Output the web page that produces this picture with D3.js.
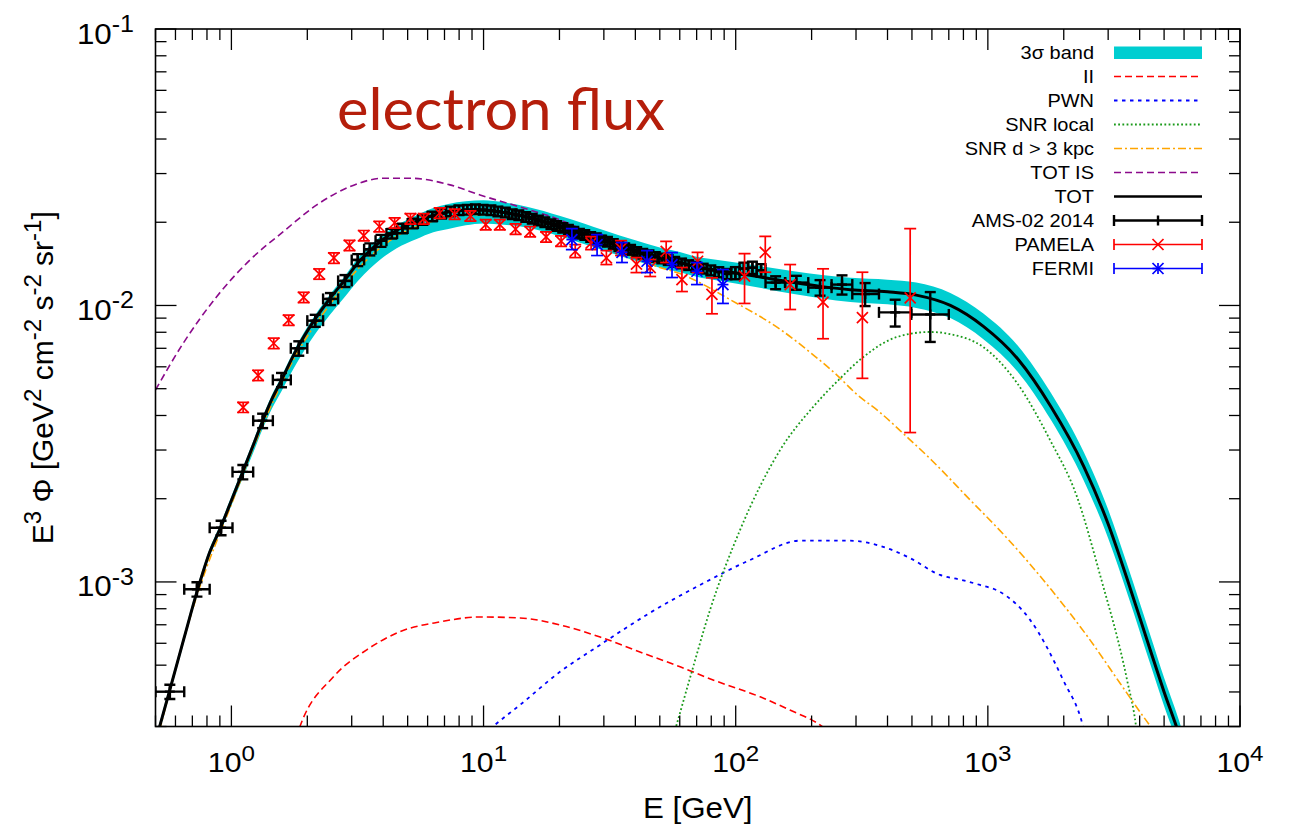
<!DOCTYPE html>
<html>
<head>
<meta charset="utf-8">
<script src="https://cdn.jsdelivr.net/npm/d3@7"></script>
<style>
  body { margin: 0; background: #fff; }
  text { white-space: pre; }
</style>
</head>
<body>
<svg id="chart" width="1296" height="828"></svg>
<script>
// ---------- model curves (E in GeV, E^3 flux in GeV^2 cm^-2 s^-1 sr^-1) ----------
const gridE = [0.5,0.567,0.65,0.735,0.82,0.905,1.0,1.109,1.22,1.331,1.45,1.582,1.8,2.132,2.46,2.804,3.186,3.546,3.886,4.524,5.43,6.32,7.25,8.5,10,12,15,20,25,30,40,50,60,70,85,100,130,170,220,285,400,520,710,960,1315,1780,2400,3000,3600,4400,5000,5700,6500];
const totFlux = [2.65e-4,4.0e-4,6.3e-4,9.4e-4,1.28e-3,1.57e-3,1.97e-3,2.5e-3,3.12e-3,3.83e-3,4.6e-3,5.38e-3,6.85e-3,8.85e-3,1.06e-2,1.23e-2,1.43e-2,1.58e-2,1.70e-2,1.87e-2,2.02e-2,2.12e-2,2.18e-2,2.21e-2,2.21e-2,2.17e-2,2.09e-2,1.94e-2,1.82e-2,1.72e-2,1.58e-2,1.49e-2,1.43e-2,1.38e-2,1.34e-2,1.31e-2,1.26e-2,1.21e-2,1.17e-2,1.14e-2,1.12e-2,1.09e-2,1.0e-2,8.4e-3,6.4e-3,4.3e-3,2.62e-3,1.62e-3,1.0e-3,5.7e-4,4.0e-4,2.85e-4,1.9e-4];
const bandLo = [2.56e-4,3.87e-4,6.09e-4,9.09e-4,1.24e-3,1.52e-3,1.89e-3,2.37e-3,2.93e-3,3.58e-3,4.25e-3,4.91e-3,6.1e-3,7.8e-3,9.25e-3,1.068e-2,1.231e-2,1.36e-2,1.464e-2,1.61e-2,1.74e-2,1.84e-2,1.89e-2,1.95e-2,1.98e-2,1.96e-2,1.91e-2,1.78e-2,1.67e-2,1.58e-2,1.45e-2,1.37e-2,1.32e-2,1.27e-2,1.23e-2,1.2e-2,1.15e-2,1.10e-2,1.06e-2,1.03e-2,1.01e-2,9.8e-3,9.0e-3,7.55e-3,5.75e-3,3.85e-3,2.33e-3,1.44e-3,8.9e-4,5.07e-4,3.56e-4,2.54e-4,1.69e-4];
const bandHi = [2.74e-4,4.14e-4,6.51e-4,9.72e-4,1.32e-3,1.62e-3,2.04e-3,2.59e-3,3.23e-3,3.96e-3,4.76e-3,5.56e-3,7.08e-3,9.15e-3,1.096e-2,1.27e-2,1.49e-2,1.65e-2,1.77e-2,1.95e-2,2.12e-2,2.25e-2,2.33e-2,2.38e-2,2.40e-2,2.36e-2,2.27e-2,2.11e-2,1.98e-2,1.87e-2,1.72e-2,1.62e-2,1.56e-2,1.50e-2,1.46e-2,1.43e-2,1.38e-2,1.33e-2,1.29e-2,1.26e-2,1.24e-2,1.21e-2,1.11e-2,9.35e-3,7.15e-3,4.82e-3,2.95e-3,1.83e-3,1.13e-3,6.45e-4,4.5e-4,3.2e-4,2.14e-4];

const iiE = [1.75,1.87,2.54,3.44,4.66,6.72,9.68,13.95,20.1,29,41.7,60.2,81.3,125,164,220,240];
const iiFlux = [2.5e-4,3.0e-4,4.54e-4,5.68e-4,6.61e-4,7.17e-4,7.47e-4,7.41e-4,6.99e-4,6.32e-4,5.58e-4,4.93e-4,4.42e-4,3.84e-4,3.44e-4,3.0e-4,2.8e-4];

const pwnE = [10,10.9,13.95,20.1,29,45.7,72.2,114,180,284,374,491,646,776,931,1118,1471,1988,2386,2500];
const pwnFlux = [2.8e-4,3.0e-4,3.59e-4,4.73e-4,5.92e-4,7.73e-4,9.75e-4,1.2e-3,1.41e-3,1.41e-3,1.35e-3,1.22e-3,1.06e-3,1.02e-3,9.75e-4,9.2e-4,7.29e-4,4.42e-4,3.0e-4,2.5e-4];

const snrLocE = [55,58,65.9,79.1,104,150,203,252,320,436,590,708,957,1306,1765,2258,2786,3565,3870,4000];
const snrLocFlux = [2.55e-4,3.0e-4,4.5e-4,7.92e-4,1.54e-3,3.0e-3,4.3e-3,5.3e-3,6.5e-3,7.69e-3,8.02e-3,7.88e-3,7.08e-3,5.24e-3,3.26e-3,2.03e-3,1.06e-3,4.42e-4,3.0e-4,2.3e-4];

const snrFarE = [0.5,0.735,1.0,1.331,1.8,2.46,3.186,4.524,6.32,8.5,10,15,20,30,40,47,62,95,150,200,252,300,374,477,600,837,1200,1780,2500,3345,4000,4470,5000];
const snrFarFlux = [2.55e-4,9.1e-4,1.91e-3,3.7e-3,6.6e-3,1.01e-2,1.36e-2,1.78e-2,2.02e-2,2.13e-2,2.13e-2,2.0e-2,1.87e-2,1.64e-2,1.49e-2,1.40e-2,1.29e-2,1.05e-2,8.2e-3,6.7e-3,5.6e-3,4.8e-3,4.1e-3,3.35e-3,2.75e-3,2.01e-3,1.43e-3,9.4e-4,6.3e-4,4.3e-4,3.4e-4,2.95e-4,2.5e-4];

const totIsE = [0.5,0.644,0.874,1.185,1.606,2.18,2.954,4.005,5.11,7.36,9.68,13.95,20.1,30,40,60];
const totIsFlux = [4.95e-3,7.3e-3,1.076e-2,1.461e-2,1.849e-2,2.31e-2,2.69e-2,2.885e-2,2.885e-2,2.73e-2,2.51e-2,2.27e-2,2.04e-2,1.74e-2,1.59e-2,1.435e-2];

// ---------- measurements ----------
const amsEdges = [0.5,0.65,0.82,1.01,1.22,1.46,1.72,2.0,2.31,2.65,3.0,3.36,3.73,4.12,4.54,5.0,5.49,6.0,6.54,7.1,7.69,8.3,8.95,9.62,10.32,11.04,11.8,12.59,13.41,14.25,15.13,16.05,17.0,18.0,19.0,20.04,21.13,22.25,23.42,24.62,25.9,27.25,28.68,30.21,31.82,33.52,35.36,37.3,39.4,41.6,44.0,46.6,49.4,52.4,55.6,59.1,63.0,67.2,71.8,76.9,82.6,88.9,95.9,103.6,112.0,121.2,131.3,157,194,240,290,370,497,700];
const amsE = [0.57,0.73,0.91,1.11,1.33,1.58,1.85,2.15,2.47,2.82,3.17,3.54,3.92,4.33,4.77,5.24,5.74,6.26,6.81,7.39,7.99,8.62,9.28,9.96,10.7,11.4,12.2,13.0,13.8,14.7,15.6,16.5,17.5,18.5,19.5,20.6,21.7,22.8,24.0,25.2,26.6,28.0,29.4,31.0,32.7,34.4,36.3,38.3,40.5,42.8,45.3,48.0,50.9,54.0,57.3,61.0,65.1,69.5,74.3,79.7,85.7,92.3,99.7,107.7,116.5,126.1,144,174,216,264,326,429,591];
const amsFlux = [4.01e-4,9.41e-4,1.57e-3,2.50e-3,3.83e-3,5.38e-3,7.0e-3,8.81e-3,1.056e-2,1.227e-2,1.461e-2,1.597e-2,1.715e-2,1.82e-2,1.90e-2,1.98e-2,2.04e-2,2.10e-2,2.15e-2,2.19e-2,2.21e-2,2.22e-2,2.23e-2,2.22e-2,2.21e-2,2.19e-2,2.17e-2,2.14e-2,2.12e-2,2.09e-2,2.06e-2,2.03e-2,2.00e-2,1.97e-2,1.94e-2,1.91e-2,1.88e-2,1.85e-2,1.82e-2,1.80e-2,1.77e-2,1.75e-2,1.72e-2,1.70e-2,1.67e-2,1.64e-2,1.61e-2,1.59e-2,1.56e-2,1.54e-2,1.52e-2,1.50e-2,1.48e-2,1.46e-2,1.44e-2,1.42e-2,1.40e-2,1.38e-2,1.36e-2,1.34e-2,1.32e-2,1.30e-2,1.31e-2,1.36e-2,1.37e-2,1.34e-2,1.21e-2,1.21e-2,1.16e-2,1.19e-2,1.10e-2,9.44e-3,9.28e-3];
const amsErr = [2.4e-5,5.6e-5,9.4e-5,1.5e-4,2.3e-4,3.2e-4,4.2e-4,4.4e-4,5.3e-4,6.1e-4,7.3e-4,8.0e-4,8.6e-4,7.3e-4,7.6e-4,7.9e-4,8.2e-4,8.4e-4,8.6e-4,8.8e-4,8.8e-4,8.9e-4,8.9e-4,8.9e-4,8.8e-4,8.8e-4,8.7e-4,8.6e-4,8.5e-4,8.4e-4,8.2e-4,8.1e-4,8.0e-4,7.9e-4,7.8e-4,7.6e-4,7.5e-4,7.4e-4,7.3e-4,7.2e-4,7.1e-4,7.0e-4,6.9e-4,6.8e-4,6.7e-4,6.6e-4,6.5e-4,6.4e-4,6.3e-4,6.2e-4,6.1e-4,6.0e-4,5.9e-4,5.9e-4,5.8e-4,5.7e-4,5.6e-4,5.6e-4,5.5e-4,5.5e-4,5.5e-4,5.5e-4,6.6e-4,6.8e-4,7.0e-4,7.0e-4,6.5e-4,7.0e-4,7.5e-4,9.5e-4,1.05e-3,1.05e-3,1.9e-3];

const pamE = [1.113,1.276,1.472,1.687,1.935,2.23,2.55,2.94,3.35,3.86,4.44,5.13,5.79,6.7,7.68,8.87,10.2,11.6,13.4,15.3,17.7,20.3,23.1,26.7,30.7,35.1,40.4,45.8,53,61.2,70.6,80.5,108.4,131,164.4,222,318,492];
const pamFlux = [4.28e-3,5.59e-3,7.3e-3,8.85e-3,1.07e-2,1.3e-2,1.486e-2,1.65e-2,1.79e-2,1.93e-2,1.99e-2,2.06e-2,2.06e-2,2.16e-2,2.14e-2,2.11e-2,1.96e-2,1.96e-2,1.89e-2,1.85e-2,1.77e-2,1.71e-2,1.57e-2,1.68e-2,1.486e-2,1.61e-2,1.41e-2,1.37e-2,1.57e-2,1.24e-2,1.445e-2,1.096e-2,1.277e-2,1.557e-2,1.19e-2,1.028e-2,9.03e-3,1.066e-2];
const pamLo = [4.1e-3,5.35e-3,6.98e-3,8.47e-3,1.024e-2,1.244e-2,1.42e-2,1.58e-2,1.713e-2,1.847e-2,1.905e-2,1.97e-2,1.97e-2,2.067e-2,2.048e-2,2.02e-2,1.876e-2,1.876e-2,1.808e-2,1.77e-2,1.694e-2,1.636e-2,1.49e-2,1.593e-2,1.406e-2,1.516e-2,1.315e-2,1.273e-2,1.43e-2,1.123e-2,1.315e-2,9.33e-3,1.017e-2,1.319e-2,9.67e-3,7.58e-3,5.45e-3,3.47e-3];
const pamHi = [4.46e-3,5.83e-3,7.62e-3,9.23e-3,1.116e-2,1.356e-2,1.55e-2,1.72e-2,1.867e-2,2.013e-2,2.075e-2,2.15e-2,2.15e-2,2.253e-2,2.232e-2,2.2e-2,2.044e-2,2.044e-2,1.972e-2,1.93e-2,1.846e-2,1.784e-2,1.66e-2,1.774e-2,1.58e-2,1.717e-2,1.49e-2,1.466e-2,1.706e-2,1.372e-2,1.557e-2,1.259e-2,1.54e-2,1.779e-2,1.406e-2,1.357e-2,1.319e-2,1.897e-2];

const fermiE = [22.4,28.2,35.4,44.5,55.9,70.2,89];
const fermiFlux = [1.73e-2,1.66e-2,1.557e-2,1.445e-2,1.406e-2,1.33e-2,1.19e-2];
const fermiLo = [1.593e-2,1.516e-2,1.43e-2,1.315e-2,1.262e-2,1.19e-2,1.017e-2];
const fermiHi = [1.897e-2,1.804e-2,1.688e-2,1.58e-2,1.553e-2,1.43e-2,1.349e-2];

// ---------- axes ----------
const xMajorTicks = [1, 10, 100, 1000, 10000];
const xTickExponents = ["0", "1", "2", "3", "4"];
const yMajorTicks = [1e-3, 1e-2, 1e-1];
const yTickExponents = ["-3", "-2", "-1"];

const legendLabels = ["3\u03c3 band", "II", "PWN", "SNR local", "SNR d > 3 kpc", "TOT IS", "TOT", "AMS-02 2014", "PAMELA", "FERMI"];

// ---------- drawing ----------
const svg = d3.select("#chart");
const P = { left: 155.5, right: 1240, top: 29, bottom: 726.5 };
const x = d3.scaleLog().domain([0.5, 1e4]).range([P.left, P.right]);
const y = d3.scaleLog().domain([3e-4, 0.1]).range([P.bottom, P.top]);

const FONT = "'Liberation Sans', Arial, Helvetica, sans-serif";
const STRETCH = 1.08;

svg.append("defs").append("clipPath").attr("id", "plotClip")
  .append("rect").attr("x", P.left).attr("y", P.top)
  .attr("width", P.right - P.left).attr("height", P.bottom - P.top);

const plot = svg.append("g").attr("clip-path", "url(#plotClip)");

const COLORS = {
  band: "#00ced1", ii: "#ff0000", pwn: "#0000ff", loc: "#1a9a1a",
  far: "#ffa500", is: "#8b0a8b", tot: "#000000", ams: "#000000", pam: "#ff0000", fermi: "#0000ff"
};

// 3 sigma band
plot.append("path")
  .datum(gridE.map((e, i) => [e, bandLo[i], bandHi[i]]))
  .attr("fill", COLORS.band)
  .attr("d", d3.area().x(d => x(d[0])).y0(d => y(d[1])).y1(d => y(d[2])).curve(d3.curveMonotoneX));

const lineGen = d3.line().x(d => x(d[0])).y(d => y(d[1])).curve(d3.curveMonotoneX);
function drawCurve(E, F, color, dash, width) {
  plot.append("path")
    .datum(E.map((e, i) => [e, F[i]]))
    .attr("fill", "none").attr("stroke", color).attr("stroke-width", width)
    .attr("stroke-dasharray", dash)
    .attr("d", lineGen);
}
const STYLES = {
  ii: ["7,4", 1.6], pwn: ["3.5,4.5", 1.8], loc: ["1.8,2.4", 1.8],
  far: ["8,3,2,3", 1.6], is: ["7,4", 1.6], tot: [null, 3]
};
drawCurve(iiE, iiFlux, COLORS.ii, ...STYLES.ii);
drawCurve(pwnE, pwnFlux, COLORS.pwn, ...STYLES.pwn);
drawCurve(snrLocE, snrLocFlux, COLORS.loc, ...STYLES.loc);
drawCurve(snrFarE, snrFarFlux, COLORS.far, ...STYLES.far);
drawCurve(totIsE, totIsFlux, COLORS.is, ...STYLES.is);
drawCurve(gridE, totFlux, COLORS.tot, ...STYLES.tot);

// markers and error bars
function seg(g, x1, y1, x2, y2, color, w) {
  g.append("line").attr("x1", x1).attr("y1", y1).attr("x2", x2).attr("y2", y2)
    .attr("stroke", color).attr("stroke-width", w);
}
function yErr(g, px, pyLo, pyHi, cap, color, w) {
  seg(g, px, pyLo, px, pyHi, color, w);
  seg(g, px - cap, pyLo, px + cap, pyLo, color, w);
  seg(g, px - cap, pyHi, px + cap, pyHi, color, w);
}
function xErr(g, pxLo, pxHi, py, cap, color, w) {
  seg(g, pxLo, py, pxHi, py, color, w);
  seg(g, pxLo, py - cap, pxLo, py + cap, color, w);
  seg(g, pxHi, py - cap, pxHi, py + cap, color, w);
}
function mark(g, kind, px, py, s, color, w) {
  if (kind === "plus" || kind === "star") {
    seg(g, px - s, py, px + s, py, color, w);
    seg(g, px, py - s, px, py + s, color, w);
  }
  if (kind === "cross" || kind === "star") {
    seg(g, px - s, py - s, px + s, py + s, color, w);
    seg(g, px - s, py + s, px + s, py - s, color, w);
  }
}

const amsG = plot.append("g").attr("stroke-linecap", "butt");
amsE.forEach((e, i) => {
  const px = x(e), py = y(amsFlux[i]);
  xErr(amsG, x(amsEdges[i]), x(amsEdges[i + 1]), py, 5.5, COLORS.ams, 2.4);
  yErr(amsG, px, y(amsFlux[i] - amsErr[i]), y(amsFlux[i] + amsErr[i]), 5.5, COLORS.ams, 2.4);
  mark(amsG, "plus", px, py, 5, COLORS.ams, 2.4);
});

const pamG = plot.append("g");
pamE.forEach((e, i) => {
  const px = x(e), py = y(pamFlux[i]);
  yErr(pamG, px, y(pamLo[i]), y(pamHi[i]), 6, COLORS.pam, 1.7);
  mark(pamG, "cross", px, py, 5.5, COLORS.pam, 1.7);
});

const fermiG = plot.append("g");
fermiE.forEach((e, i) => {
  const px = x(e), py = y(fermiFlux[i]);
  yErr(fermiG, px, y(fermiLo[i]), y(fermiHi[i]), 6, COLORS.fermi, 1.7);
  mark(fermiG, "star", px, py, 5.5, COLORS.fermi, 1.7);
});

// frame and ticks (mirrored on all four sides, pointing inward)
const axisG = svg.append("g").attr("stroke", "#000");
const isMajor = v => Math.abs(Math.log10(v) - Math.round(Math.log10(v))) < 1e-9;
x.ticks().forEach(t => {
  const px = x(t), len = isMajor(t) ? 21 : 11;
  seg(axisG, px, P.bottom, px, P.bottom - len, "#000", 1.3);
  seg(axisG, px, P.top, px, P.top + len, "#000", 1.3);
});
y.ticks().forEach(t => {
  const py = y(t), len = isMajor(t) ? 21 : 11;
  seg(axisG, P.left, py, P.left + len, py, "#000", 1.3);
  seg(axisG, P.right, py, P.right - len, py, "#000", 1.3);
});
svg.append("rect").attr("x", P.left).attr("y", P.top)
  .attr("width", P.right - P.left).attr("height", P.bottom - P.top)
  .attr("fill", "none").attr("stroke", "#000").attr("stroke-width", 1.6);

// text with superscripts
function rich(textSel, parts, size) {
  let up = false;
  parts.forEach(([t, sup]) => {
    const ts = textSel.append("tspan").text(t);
    if (sup) {
      ts.attr("font-size", size * 0.8);
      if (!up) { ts.attr("dy", -size * 0.4); up = true; }
    } else if (up) { ts.attr("dy", size * 0.4); up = false; }
  });
}
function label(x0, y0, anchor, size, parts, extra) {
  const g = svg.append("g").attr("transform", `translate(${x0},${y0}) ${extra || ""} scale(${STRETCH},1)`);
  const t = g.append("text").attr("font-family", FONT).attr("font-size", size)
    .attr("text-anchor", anchor).attr("fill", "#000");
  rich(t, parts, size);
  return t;
}

xMajorTicks.forEach((v, i) => label(x(v), 772, "middle", 28, [["10", false], [xTickExponents[i], true]]));
yMajorTicks.forEach((v, i) => label(134, y(v) + 14.5, "end", 29, [["10", false], [yTickExponents[i], true]]));

label((P.left + P.right) / 2, 818, "middle", 29, [["E [GeV]", false]]);
{
  const g = svg.append("g").attr("transform", `translate(53,${(P.top + P.bottom) / 2}) rotate(-90)`);
  const t = g.append("text").attr("font-family", FONT).attr("font-size", 30)
    .attr("text-anchor", "middle").attr("fill", "#000");
  rich(t, [["E", false], ["3", true], [" \u03a6 [GeV", false], ["2", true], [" cm", false], ["-2", true],
           [" s", false], ["-2", true], [" sr", false], ["-1", true], ["]", false]], 30);
}

// annotation
svg.append("text").attr("x", 337).attr("y", 130)
  .attr("font-family", "Lato, 'Open Sans', sans-serif").attr("font-size", 58)
  .attr("fill", "#b51e0b").attr("textLength", 328).attr("lengthAdjust", "spacingAndGlyphs")
  .text("electron flux");

// legend
const LX0 = 1114, LX1 = 1202, LTEXT = 1094, LROW0 = 52.5, LSTEP = 24;
const legend = svg.append("g");
legendLabels.forEach((lab, i) => {
  const cy = LROW0 + i * LSTEP;
  label(LTEXT, cy + 6.5, "end", 18.5, [[lab, false]]);
  const keys = ["band", "ii", "pwn", "loc", "far", "is", "tot", "ams", "pam", "fermi"];
  const k = keys[i];
  if (k === "band") {
    legend.append("rect").attr("x", LX0).attr("y", cy - 6).attr("width", LX1 - LX0).attr("height", 12.5)
      .attr("fill", COLORS.band);
  } else if (STYLES[k]) {
    legend.append("line").attr("x1", LX0).attr("x2", LX1).attr("y1", cy).attr("y2", cy)
      .attr("stroke", COLORS[k]).attr("stroke-width", STYLES[k][1] === 3 ? 2.6 : STYLES[k][1])
      .attr("stroke-dasharray", STYLES[k][0]);
  } else {
    const w = k === "ams" ? 2.4 : 1.7;
    xErr(legend, LX0, LX1, cy, 5.5, COLORS[k], w);
    const kind = k === "ams" ? "plus" : (k === "pam" ? "cross" : "star");
    if (kind === "plus") seg(legend, (LX0 + LX1) / 2, cy - 5, (LX0 + LX1) / 2, cy + 5, COLORS[k], w);
    else mark(legend, kind, (LX0 + LX1) / 2, cy, 5.5, COLORS[k], w);
  }
});
</script>
</body>
</html>
